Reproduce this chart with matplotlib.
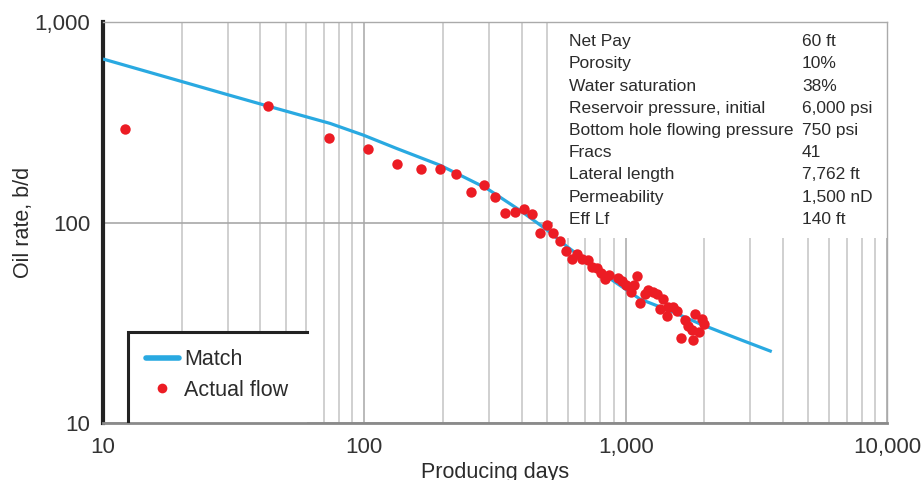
import matplotlib
matplotlib.use("Agg")
import matplotlib.pyplot as plt
from matplotlib.ticker import LogLocator, FixedLocator, FuncFormatter, NullFormatter
from matplotlib.patches import Rectangle
from matplotlib.lines import Line2D

plt.rcParams['font.family'] = ['Liberation Sans', 'DejaVu Sans']

# Model match curve (producing days, oil rate b/d)
match_days = [10, 20, 30, 43, 74, 99, 133, 195, 294, 394, 499, 595,
              871, 1135, 1500, 1928, 2298, 2800, 3622]
match_rate = [654, 505, 434, 380, 312, 273, 234, 193, 148, 115, 92, 76,
              52.5, 41.5, 36, 31.2, 28.5, 25.8, 22.7]

# Measured production
actual_days = [12.1, 42.9, 73.3, 103.6, 133, 165, 195, 224, 255, 286, 316, 346,
               377, 409, 440, 470, 500, 528, 561, 590, 625, 650, 682, 720, 741,
               774, 805, 834, 866, 933, 966, 1003, 1046, 1080, 1106, 1135, 1186,
               1222, 1276, 1323, 1394, 1354, 1436, 1457, 1522, 1569, 1688, 1738,
               1625, 1790, 1806, 1843, 1914, 1955, 2001]
actual_rate = [292, 381, 264, 232, 196, 185, 185, 174.5, 142, 153, 134.5, 111,
               113, 117, 110, 89, 97, 89, 81, 72, 66, 70, 66, 65, 60,
               59, 56, 52, 55, 53, 51, 49, 45, 49, 54, 39.5, 44,
               46, 45, 44, 41.4, 37, 34, 38, 38, 36, 32.6, 30.5,
               26.4, 29, 26, 35, 28.5, 33, 31]

# Well and reservoir parameters
param_names = ["Net Pay", "Porosity", "Water saturation",
               "Reservoir pressure, initial", "Bottom hole flowing pressure",
               "Fracs", "Lateral length", "Permeability", "Eff Lf"]
param_values = ["60 ft", "10%", "38%", "6,000 psi", "750 psi", "41",
                "7,762 ft", "1,500 nD", "140 ft"]

y_ticks = [10, 100, 1000]
x_ticks = [10, 100, 1000, 10000]

BLUE = "#29a9e1"
RED = "#ec1c24"
TXT = "#2b2b2b"

fig = plt.figure(figsize=(9.21, 4.80), dpi=100)
ax = fig.add_axes([0.1118, 0.11875, 0.8513, 0.8354])

ax.set_xscale("log")
ax.set_yscale("log")
ax.set_xlim(10, 10000)
ax.set_ylim(10, 1000)

# Vertical grid at every log subdivision, horizontal only at 100
ax.xaxis.set_major_locator(FixedLocator(x_ticks))
ax.xaxis.set_minor_locator(LogLocator(base=10, subs=range(2, 10)))
ax.xaxis.set_minor_formatter(NullFormatter())
ax.yaxis.set_major_locator(FixedLocator(y_ticks))
ax.yaxis.set_minor_locator(FixedLocator([]))
fmt = FuncFormatter(lambda v, p: f"{int(round(v)):,}")
ax.xaxis.set_major_formatter(fmt)
ax.yaxis.set_major_formatter(fmt)

ax.grid(which="major", axis="x", color="#b4b4b4", lw=1.3, zorder=0)
ax.grid(which="minor", axis="x", color="#cdcdcd", lw=1.3, zorder=0)
ax.grid(which="major", axis="y", color="#a8a8a8", lw=1.2, zorder=0)
ax.set_axisbelow(True)

ax.tick_params(which="both", length=0)
ax.tick_params(axis="y", labelsize=16, labelcolor="#333333", pad=9)
ax.tick_params(axis="x", labelsize=16, labelcolor="#333333", pad=10)

for side in ("top", "right"):
    ax.spines[side].set_color("#aaaaaa")
    ax.spines[side].set_linewidth(1.0)
ax.spines["bottom"].set_color("#8a8a8a")
ax.spines["bottom"].set_linewidth(2.0)
ax.spines["left"].set_color("#222222")
ax.spines["left"].set_linewidth(3.0)

ax.set_xlabel("Producing days", fontsize=15.5, color=TXT, labelpad=3)
ax.set_ylabel("Oil rate, b/d", fontsize=15.5, color=TXT)
ax.yaxis.set_label_coords(-0.088, 0.5)

# Curves
ax.plot(match_days, match_rate, color=BLUE, lw=2.3, zorder=3,
        solid_capstyle="butt", solid_joinstyle="round", label="Match")
ax.plot(actual_days, actual_rate, ls="none", marker="o", ms=7.5,
        mfc=RED, mec=RED, mew=0, zorder=4, label="Actual flow")

# Parameter panel
ax.add_patch(Rectangle((0.574, 0.461), 0.426, 0.539, transform=ax.transAxes,
                       facecolor="white", edgecolor="none", zorder=2))
row_top = 41.7
row_step = 22.2
for i, (name, val) in enumerate(zip(param_names, param_values)):
    py = row_top + i * row_step
    ya = (423 - py) / 401
    ax.text(0.594, ya, name, transform=ax.transAxes, fontsize=12.5,
            color=TXT, va="center", ha="left", zorder=5)
    ax.text(0.8916, ya, val, transform=ax.transAxes, fontsize=12.5,
            color=TXT, va="center", ha="left", zorder=5)

# Legend panel with open frame (top and left edges)
ax.add_patch(Rectangle((0.0319, 0.0), 0.228, 0.227, transform=ax.transAxes,
                       facecolor="white", edgecolor="none", zorder=2))
ax.add_line(Line2D([0.0319, 0.0319, 0.260], [0.0, 0.227, 0.227],
                   transform=ax.transAxes, color="#222222", lw=2.2,
                   solid_joinstyle="miter", zorder=5))
handles = [Line2D([], [], color=BLUE, lw=4, solid_capstyle="round"),
           Line2D([], [], ls="none", marker="o", ms=7, mfc=RED, mec=RED, mew=0)]
leg = ax.legend(handles, ["Match", "Actual flow"], loc="upper left",
                bbox_to_anchor=(0.036, 0.222), frameon=False, fontsize=15.5,
                handlelength=1.5, handletextpad=0.25, labelspacing=0.45,
                borderpad=0.2, labelcolor=TXT)
leg.set_zorder(6)

fig.savefig("out.png", dpi=100)
